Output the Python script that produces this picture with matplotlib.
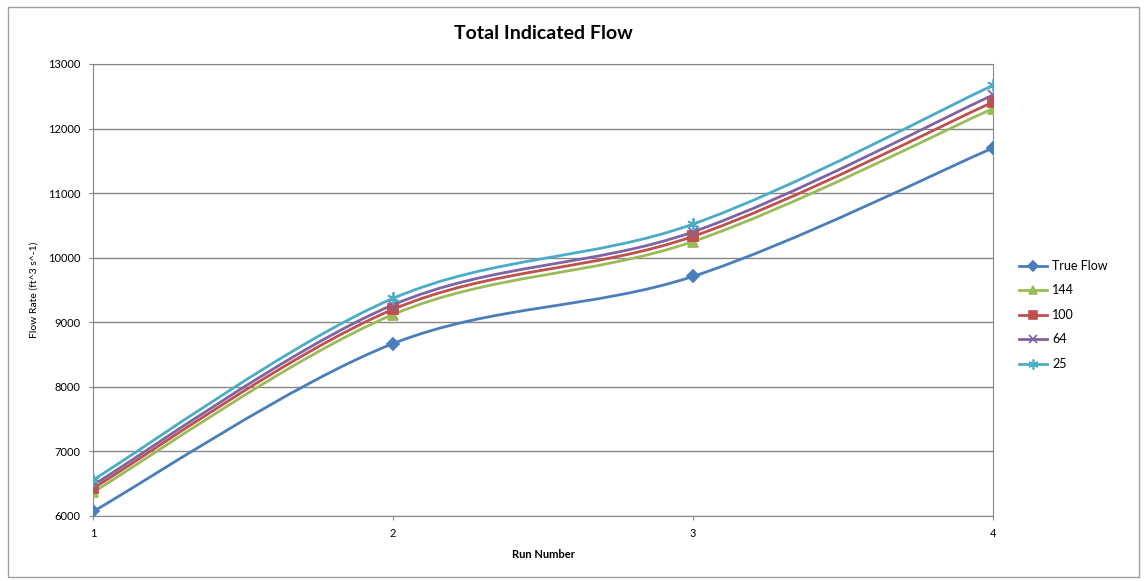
import matplotlib.pyplot as plt
import numpy as np
from matplotlib.path import Path
from matplotlib.patches import PathPatch, Rectangle
from matplotlib.lines import Line2D

plt.rcParams["font.family"] = ["Lato", "DejaVu Sans"]

# data
runs = [1, 2, 3, 4]
true_flow = [6070, 8670, 9710, 11700]
flow_144 = [6370, 9120, 10250, 12310]
flow_100 = [6430, 9200, 10330, 12410]
flow_64 = [6480, 9270, 10400, 12520]
flow_25 = [6560, 9370, 10520, 12670]

series_names = ["True Flow", "144", "100", "64", "25"]
series_vals = [true_flow, flow_144, flow_100, flow_64, flow_25]
colors = ["#4A7EBB", "#9BBB59", "#C0504D", "#8064A2", "#4BACC6"]
markers = ["D", "^", "s", "x", (6, 2, 0)]
msizes = [6, 7, 7, 7, 9]


def smooth_path(x, y):
    # excel-style smoothed line: cubic bezier through each point (catmull-rom tangents)
    x = np.asarray(x, float)
    y = np.asarray(y, float)
    verts = [(x[0], y[0])]
    codes = [Path.MOVETO]
    n = len(x)
    for i in range(n - 1):
        p0 = (x[max(i - 1, 0)], y[max(i - 1, 0)])
        p1 = (x[i], y[i])
        p2 = (x[i + 1], y[i + 1])
        p3 = (x[min(i + 2, n - 1)], y[min(i + 2, n - 1)])
        c1 = (p1[0] + (p2[0] - p0[0]) / 6, p1[1] + (p2[1] - p0[1]) / 6)
        c2 = (p2[0] - (p3[0] - p1[0]) / 6, p2[1] - (p3[1] - p1[1]) / 6)
        verts += [c1, c2, p2]
        codes += [Path.CURVE4] * 3
    return Path(verts, codes)


fig = plt.figure(figsize=(11.46, 5.81), dpi=100)
ax = fig.add_axes([0.0812, 0.1119, 0.7853, 0.7780])

# outer chart border
fig.patches.append(Rectangle((0.007, 0.007), 0.987, 0.981, transform=fig.transFigure,
                             fill=False, edgecolor="#A0A0A0", linewidth=1))

for name, vals, col, mk, ms in zip(series_names, series_vals, colors, markers, msizes):
    ax.add_patch(PathPatch(smooth_path(runs, vals), facecolor="none", edgecolor=col,
                           linewidth=2.0, zorder=3, capstyle="round"))
    ax.plot(runs, vals, linestyle="none", marker=mk, markersize=ms, color=col,
            markeredgecolor=col, markeredgewidth=1.3, zorder=4)

ax.set_xlim(1, 4)
ax.set_ylim(6000, 13000)
ax.set_xticks(runs)
ax.set_yticks(np.arange(6000, 13001, 1000))
ax.yaxis.grid(True, color="#878787", linewidth=1, zorder=0)
ax.tick_params(axis="both", labelsize=8, length=3, color="#878787", pad=6)
for s in ax.spines.values():
    s.set_color("#878787")

ax.set_title("Total Indicated Flow", fontsize=14, fontweight="bold", pad=18)
ax.set_xlabel("Run Number", fontsize=8, fontweight="bold", labelpad=7)
ax.set_ylabel("Flow Rate (ft^3 s^-1)", fontsize=7.5, labelpad=7)

handles = [Line2D([0], [0], color=c, linewidth=2.0, marker=m, markersize=ms * 0.8,
                  markeredgewidth=1.2) for c, m, ms in zip(colors, markers, msizes)]
fig.legend(handles, series_names, loc="center left", bbox_to_anchor=(0.879, 0.458),
           frameon=False, fontsize=9, handlelength=2.3, labelspacing=1.0,
           handletextpad=0.4)

fig.savefig("out.png", dpi=100)
